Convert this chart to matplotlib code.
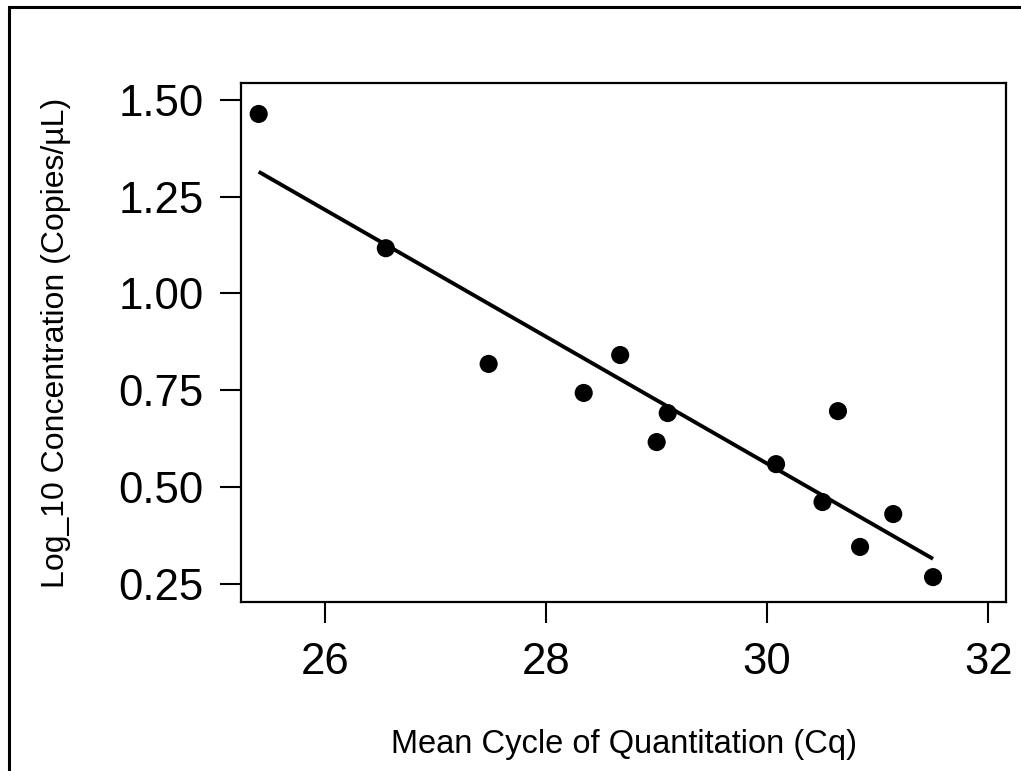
import numpy as np
import matplotlib
matplotlib.use("Agg")
import matplotlib.pyplot as plt
from matplotlib.patches import Rectangle

plt.rcParams['font.family'] = ['Liberation Sans', 'DejaVu Sans']

# mean Cq vs log10 concentration
cq = [25.40, 26.55, 27.48, 28.34, 28.67, 29.00, 29.10, 30.08, 30.50, 30.64, 30.84, 31.14, 31.50]
log_conc = [1.464, 1.117, 0.818, 0.743, 0.841, 0.616, 0.691, 0.559, 0.461, 0.696, 0.345, 0.430, 0.267]

xticks = [26, 28, 30, 32]
yticks = [0.25, 0.50, 0.75, 1.00, 1.25, 1.50]

fig = plt.figure(figsize=(10.21, 7.71), dpi=100)
ax = fig.add_axes([241 / 1021, 1 - 602 / 771, (1006 - 241) / 1021, (602 - 83) / 771])

# fitted line
slope, intercept = np.polyfit(cq, log_conc, 1)
xs = np.array([min(cq), max(cq)])
ax.plot(xs, slope * xs + intercept, color='black', lw=2.8, solid_capstyle='butt')
ax.scatter(cq, log_conc, s=170, color='black', zorder=3, edgecolors='none')

ax.set_xlim(25.24, 32.16)
ax.set_ylim(0.2027, 1.544)
ax.set_xticks(xticks)
ax.set_yticks(yticks)
ax.set_xticklabels([str(t) for t in xticks])
ax.set_yticklabels([f"{t:.2f}" for t in yticks])
ax.tick_params(axis='both', length=15, width=1.5, labelsize=31.5, color='black')
ax.tick_params(axis='x', pad=14)
ax.tick_params(axis='y', pad=12)
for sp in ax.spines.values():
    sp.set_linewidth(1.6)

ax.set_xlabel('Mean Cycle of Quantitation (Cq)', fontsize=23.5, labelpad=33)
ax.set_ylabel('Log_10 Concentration (Copies/µL)', fontsize=23, labelpad=34)

# outer frame (cropped at right/bottom)
fig.patches.append(Rectangle((9 / 1021, -0.05), 1.2, 1 - 7 / 771 + 0.05,
                             transform=fig.transFigure, fill=False,
                             edgecolor='black', lw=2.2))

fig.savefig('out.png', dpi=100)
